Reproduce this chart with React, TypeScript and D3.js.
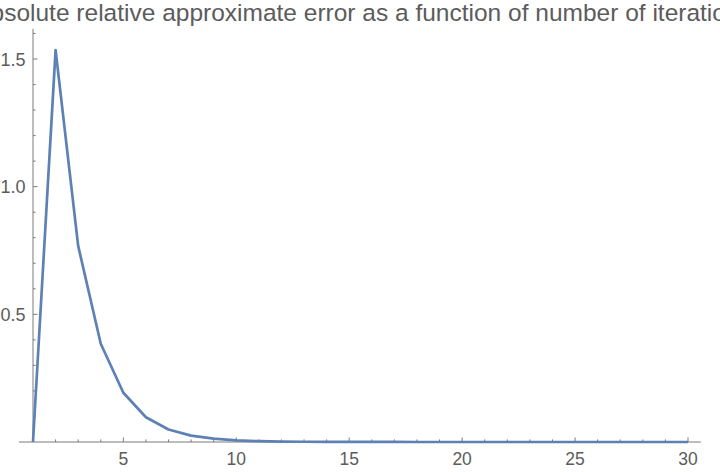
import { useEffect, useRef } from 'react'
import * as d3 from 'd3'

// iteration number vs absolute relative approximate error
const iterations = [
  1, 2, 3, 4, 5, 6, 7, 8, 9, 10, 11, 12, 13, 14, 15, 16, 17, 18, 19, 20, 21,
  22, 23, 24, 25, 26, 27, 28, 29, 30,
]
const errors = [
  0, 1.535, 0.768, 0.385, 0.193, 0.097, 0.049, 0.025, 0.013, 0.0065, 0.0033,
  0.0017, 0.0009, 0.0005, 0.0003, 0.00015, 0.0001, 0.00005, 0.00003, 0.00002,
  0.00001, 0.00001, 0, 0, 0, 0, 0, 0, 0, 0,
]
const xMajorTicks = [5, 10, 15, 20, 25, 30]
const yMajorTicks = [0.5, 1.0, 1.5]
const title =
  'Absolute relative approximate error as a function of number of iterations'

const W = 720
const H = 472

const App = () => {
  const svgRef = useRef(null)

  useEffect(() => {
    const svg = d3.select(svgRef.current)
    svg.selectAll('*').remove()

    const x = d3.scaleLinear().domain([1, 30]).range([33, 688])
    const y = d3.scaleLinear().domain([0, 1.5]).range([442, 59])

    const axisColor = '#7a7a7a'
    const textColor = '#5c5c5c'
    const font = 'Liberation Sans, Arial, sans-serif'

    // title (wider than the image, clipped at both sides like the original)
    svg
      .append('text')
      .attr('x', 363)
      .attr('y', 21)
      .attr('text-anchor', 'middle')
      .attr('font-family', font)
      .attr('font-size', 24.5)
      .attr('fill', textColor)
      .text(title)

    // axes lines
    svg
      .append('line')
      .attr('x1', x(0.38))
      .attr('x2', x(30.57))
      .attr('y1', y(0))
      .attr('y2', y(0))
      .attr('stroke', axisColor)
      .attr('stroke-width', 1)
    svg
      .append('line')
      .attr('x1', x(1))
      .attr('x2', x(1))
      .attr('y1', y(0))
      .attr('y2', y(1.618))
      .attr('stroke', axisColor)
      .attr('stroke-width', 1)

    // x ticks
    const xMinor = d3.range(2, 31).filter((v) => !xMajorTicks.includes(v))
    svg
      .append('g')
      .selectAll('line')
      .data(xMinor)
      .enter()
      .append('line')
      .attr('x1', (d) => x(d))
      .attr('x2', (d) => x(d))
      .attr('y1', y(0))
      .attr('y2', y(0) - 2.6)
      .attr('stroke', axisColor)
    svg
      .append('g')
      .selectAll('line')
      .data(xMajorTicks)
      .enter()
      .append('line')
      .attr('x1', (d) => x(d))
      .attr('x2', (d) => x(d))
      .attr('y1', y(0))
      .attr('y2', y(0) - 4.5)
      .attr('stroke', axisColor)
    svg
      .append('g')
      .selectAll('text')
      .data(xMajorTicks)
      .enter()
      .append('text')
      .attr('x', (d) => x(d))
      .attr('y', 465)
      .attr('text-anchor', 'middle')
      .attr('font-family', font)
      .attr('font-size', 17.5)
      .attr('fill', textColor)
      .text((d) => d)

    // y ticks
    const yMinor = d3
      .range(1, 17)
      .map((v) => v / 10)
      .filter((v) => !yMajorTicks.some((m) => Math.abs(m - v) < 1e-9))
    svg
      .append('g')
      .selectAll('line')
      .data(yMinor)
      .enter()
      .append('line')
      .attr('x1', x(1))
      .attr('x2', x(1) + 2.6)
      .attr('y1', (d) => y(d))
      .attr('y2', (d) => y(d))
      .attr('stroke', axisColor)
    svg
      .append('g')
      .selectAll('line')
      .data(yMajorTicks)
      .enter()
      .append('line')
      .attr('x1', x(1))
      .attr('x2', x(1) + 4.5)
      .attr('y1', (d) => y(d))
      .attr('y2', (d) => y(d))
      .attr('stroke', axisColor)
    svg
      .append('g')
      .selectAll('text')
      .data(yMajorTicks)
      .enter()
      .append('text')
      .attr('x', 25.5)
      .attr('y', (d) => y(d) + 6.5)
      .attr('text-anchor', 'end')
      .attr('font-family', font)
      .attr('font-size', 18)
      .attr('fill', textColor)
      .text((d) => d.toFixed(1))

    // data line
    const line = d3
      .line()
      .x((d) => x(d[0]))
      .y((d) => y(d[1]))
    svg
      .append('path')
      .datum(iterations.map((it, i) => [it, errors[i]]))
      .attr('d', line)
      .attr('fill', 'none')
      .attr('stroke', '#5e81b5')
      .attr('stroke-width', 2.7)
      .attr('stroke-linejoin', 'round')
  }, [])

  return (
    <svg
      ref={svgRef}
      width={W}
      height={H}
      style={{ position: 'absolute', left: 0, top: 0, background: '#fff' }}
    ></svg>
  )
}

export default App
